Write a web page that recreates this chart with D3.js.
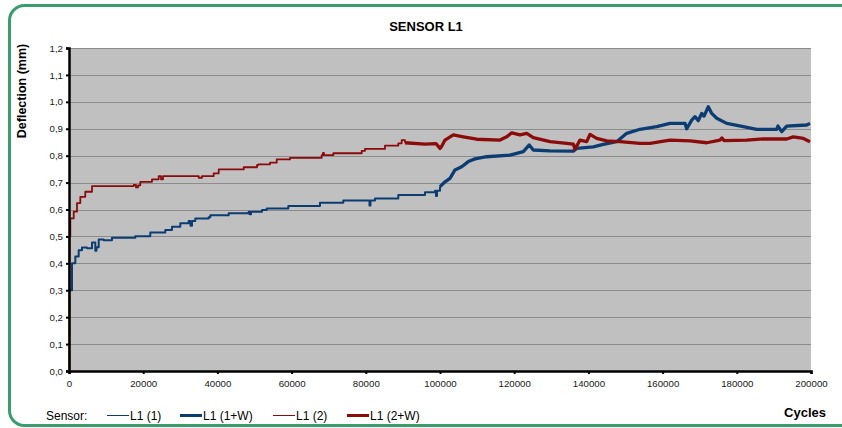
<!DOCTYPE html>
<html>
<head>
<meta charset="utf-8">
<script src="https://cdn.jsdelivr.net/npm/d3@7"></script>
<style>
  html, body { margin: 0; padding: 0; background: #ffffff; }
  svg { display: block; font-family: "Liberation Sans", Arial, sans-serif; }
</style>
</head>
<body>
<svg id="chart" width="842" height="428"></svg>
<script>
// Sensor L1 deflection readings, [cycles, deflection in mm]
const l1_1 = [
  [0, 0.30], [810, 0.40], [1700, 0.425], [2610, 0.449], [3500, 0.459], [4850, 0.456],
  [6200, 0.477], [6740, 0.477], [7090, 0.447], [7410, 0.46], [8010, 0.489], [9350, 0.486],
  [11590, 0.495], [17870, 0.501], [21910, 0.515], [25960, 0.524], [27760, 0.536],
  [30000, 0.549], [32260, 0.557], [32750, 0.54], [33150, 0.557], [34040, 0.567],
  [37650, 0.571], [38090, 0.579], [43050, 0.586], [48440, 0.592], [48650, 0.582],
  [49060, 0.592], [52020, 0.598], [53290, 0.604], [59110, 0.613], [67650, 0.625],
  [73930, 0.633], [80860, 0.633], [80990, 0.615], [81260, 0.633], [82480, 0.641],
  [88760, 0.654], [95950, 0.664], [98650, 0.670], [98920, 0.650], [99190, 0.670],
  [100000, 0.685]
];
const l1_1w = [
  [100000, 0.685], [101350, 0.703], [102690, 0.716], [104040, 0.747], [105850, 0.759],
  [107630, 0.778], [109430, 0.788], [112590, 0.796], [118870, 0.802], [122450, 0.815],
  [124070, 0.840], [125150, 0.821], [129650, 0.818], [135930, 0.817], [136850, 0.827],
  [141320, 0.833], [144020, 0.842], [147620, 0.852], [150320, 0.883], [153910, 0.898],
  [158410, 0.908], [162000, 0.920], [166040, 0.920], [166500, 0.900], [167850, 0.932],
  [168740, 0.945], [169630, 0.930], [170540, 0.957], [171170, 0.947], [172320, 0.982],
  [173240, 0.957], [174580, 0.939], [177280, 0.920], [181750, 0.908], [185360, 0.898],
  [190750, 0.898], [191100, 0.910], [192100, 0.889], [193450, 0.910], [198840, 0.914],
  [199730, 0.920]
];
const l1_2 = [
  [0, 0.0], [100, 0.50], [350, 0.567], [1270, 0.592], [2160, 0.624], [3050, 0.647],
  [4390, 0.666], [6200, 0.687], [17440, 0.691], [18060, 0.682], [18600, 0.690],
  [19220, 0.703], [22370, 0.712], [24180, 0.724], [24800, 0.712], [25340, 0.724],
  [33960, 0.724], [34960, 0.718], [35850, 0.724], [39000, 0.734], [40350, 0.749],
  [47090, 0.757], [50670, 0.765], [51030, 0.768], [54180, 0.774], [55990, 0.786],
  [59570, 0.792], [68110, 0.802], [68460, 0.810], [68730, 0.802], [71240, 0.809],
  [78900, 0.818], [79780, 0.825], [85170, 0.837], [88760, 0.846], [89670, 0.858],
  [90560, 0.848]
];
const l1_2w = [
  [90560, 0.848], [95950, 0.843], [98920, 0.845], [100000, 0.827], [100460, 0.835],
  [101350, 0.858], [103580, 0.877], [106280, 0.870], [109890, 0.861], [116170, 0.858],
  [117980, 0.870], [119330, 0.885], [121560, 0.877], [123370, 0.883], [125150, 0.867],
  [129650, 0.852], [134150, 0.846], [135930, 0.843], [136390, 0.824], [137730, 0.858],
  [139540, 0.852], [140430, 0.879], [142240, 0.864], [144930, 0.855], [148520, 0.852],
  [153910, 0.846], [156600, 0.846], [162000, 0.858], [167390, 0.855], [171890, 0.848],
  [175470, 0.858], [176010, 0.866], [176550, 0.856], [182670, 0.858], [187140, 0.862],
  [193450, 0.862], [195230, 0.870], [197930, 0.864], [199730, 0.852]
];

const xTicks = [0, 20000, 40000, 60000, 80000, 100000, 120000, 140000, 160000, 180000, 200000];
const yTicks = [0, 0.1, 0.2, 0.3, 0.4, 0.5, 0.6, 0.7, 0.8, 0.9, 1.0, 1.1, 1.2];

const series = [
  { name: "L1 (1)",   data: l1_1,  color: "#0b3d73", width: 2,   legendWidth: 1, curve: d3.curveStepAfter },
  { name: "L1 (1+W)", data: l1_1w, color: "#0b3d73", width: 3.3, legendWidth: 3, curve: d3.curveLinear },
  { name: "L1 (2)",   data: l1_2,  color: "#8b0a0a", width: 1.8, legendWidth: 1, curve: d3.curveStepAfter },
  { name: "L1 (2+W)", data: l1_2w, color: "#8b0a0a", width: 3.3, legendWidth: 3, curve: d3.curveLinear }
];

const svg = d3.select("#chart");

// Rounded frame around the chart
svg.append("rect")
  .attr("x", 9.5).attr("y", 5.5)
  .attr("width", 846).attr("height", 420)
  .attr("rx", 15).attr("ry", 15)
  .attr("fill", "#ffffff")
  .attr("stroke", "#3a9d6c")
  .attr("stroke-width", 3);

const plot = { left: 69, right: 811, top: 48, bottom: 371 };

const x = d3.scaleLinear().domain([0, 200000]).range([plot.left, plot.right]);
const y = d3.scaleLinear().domain([0, 1.2]).range([plot.bottom, plot.top]);

// Plot background
svg.append("rect")
  .attr("x", plot.left).attr("y", plot.top)
  .attr("width", plot.right - plot.left).attr("height", plot.bottom - plot.top)
  .attr("fill", "#c0c0c0");

// Horizontal gridlines
svg.append("g")
  .selectAll("line")
  .data(yTicks.filter(d => d > 0))
  .join("line")
  .attr("x1", plot.left).attr("x2", plot.right)
  .attr("y1", d => Math.round(y(d)) + 0.5).attr("y2", d => Math.round(y(d)) + 0.5)
  .attr("stroke", "#8c8c8c")
  .attr("stroke-width", 1.2);

// Data lines
const line = d3.line().x(d => x(d[0])).y(d => y(d[1]));
const gLines = svg.append("g");
series.forEach(s => {
  gLines.append("path")
    .datum(s.data)
    .attr("fill", "none")
    .attr("stroke", s.color)
    .attr("stroke-width", s.width)
    .attr("stroke-linejoin", "round")
    .attr("d", line.curve(s.curve));
});

// Axes
const fmtY = d => d3.format(".1f")(d).replace(".", ",");
const yAxis = d3.axisLeft(y).tickValues(yTicks).tickFormat(fmtY).tickSize(3).tickPadding(3);
const xAxis = d3.axisBottom(x).tickValues(xTicks).tickFormat(d3.format("d")).tickSize(3).tickPadding(6);

const gy = svg.append("g").attr("transform", `translate(${plot.left},0)`).call(yAxis);
const gx = svg.append("g").attr("transform", `translate(0,${plot.bottom})`).call(xAxis);

[gx, gy].forEach(g => {
  g.select(".domain").attr("stroke", "#000").attr("stroke-width", 2.5);
  g.selectAll(".tick line").attr("stroke", "#000").attr("stroke-width", 2);
  g.selectAll(".tick text")
    .attr("fill", "#1a1a1a")
    .style("font-size", "9.7px")
    .style("font-family", "'Liberation Sans', Arial, sans-serif");
});

// Title and axis titles
svg.append("text")
  .attr("x", 426).attr("y", 31)
  .attr("text-anchor", "middle")
  .style("font-size", "13px").style("font-weight", "bold")
  .text("SENSOR L1");

svg.append("text")
  .attr("transform", "translate(26,91) rotate(-90)")
  .attr("text-anchor", "middle")
  .style("font-size", "12.5px").style("font-weight", "bold")
  .text("Deflection (mm)");

svg.append("text")
  .attr("x", 826).attr("y", 417)
  .attr("text-anchor", "end")
  .style("font-size", "13px").style("font-weight", "bold")
  .text("Cycles");

// Legend
const legend = svg.append("g").style("font-size", "12px");
legend.append("text").attr("x", 46).attr("y", 420).text("Sensor:");
const legendX = [107, 180, 273, 347];
series.forEach((s, i) => {
  legend.append("line")
    .attr("x1", legendX[i]).attr("x2", legendX[i] + 22)
    .attr("y1", 415.5).attr("y2", 415.5)
    .attr("stroke", s.color)
    .attr("stroke-width", s.legendWidth);
  legend.append("text")
    .attr("x", legendX[i] + 23).attr("y", 420)
    .text(s.name);
});
</script>
</body>
</html>
